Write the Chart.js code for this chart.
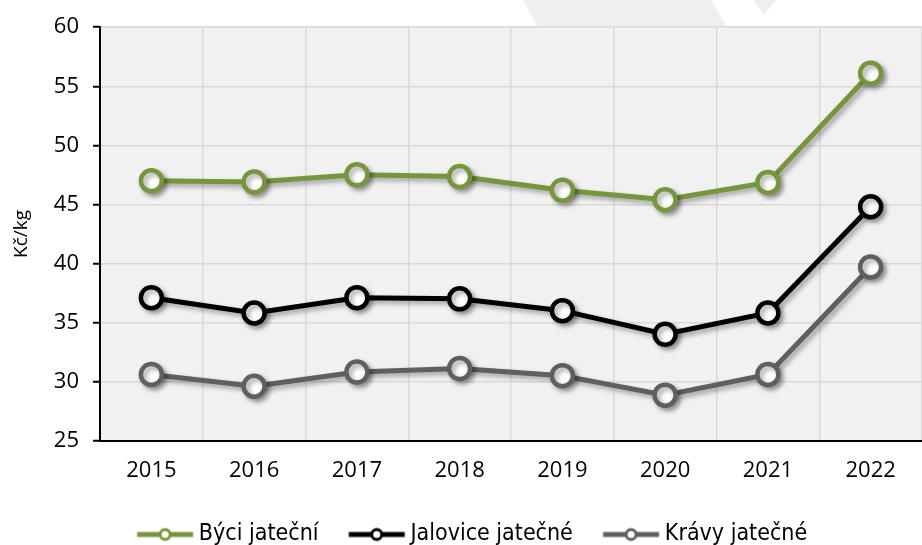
<!DOCTYPE html>
<html>
<head>
<meta charset="utf-8">
<script src="https://cdn.jsdelivr.net/npm/chart.js@4.4.0/dist/chart.umd.min.js"></script>
<style>
    html, body { margin: 0; padding: 0; background: #fff; overflow: hidden; }
</style>
</head>
<body>
<canvas id="price-chart" width="922" height="545"></canvas>
<script>
const years = ['2015', '2016', '2017', '2018', '2019', '2020', '2021', '2022'];
const bulls = [47.0, 46.9, 47.5, 47.35, 46.2, 45.4, 46.85, 56.1];
const heifers = [37.1, 35.8, 37.1, 37.0, 36.0, 34.0, 35.8, 44.8];
const cows = [30.6, 29.6, 30.8, 31.1, 30.5, 28.85, 30.6, 39.7];
const seriesNames = ['Býci jateční', 'Jalovice jatečné', 'Krávy jatečné'];
const seriesColors = ['#76963b', '#000000', '#5f5f5f'];

const legendFont = 23;
const legendLine = 56;
const legendGap = 14;
const padLeft = 14;

// line + circle marker for the legend (transparent gap on the left)
function legendMarker(color) {
    const half = legendFont / 2;
    const c = document.createElement('canvas');
    c.width = legendLine + legendGap + 2 * half;
    c.height = 16;
    const g = c.getContext('2d');
    const x0 = half + legendGap;
    g.strokeStyle = color;
    g.lineWidth = 5;
    g.beginPath();
    g.moveTo(x0, 8);
    g.lineTo(x0 + legendLine, 8);
    g.stroke();
    g.beginPath();
    g.arc(x0 + legendLine / 2, 8, 5, 0, Math.PI * 2);
    g.fillStyle = '#fff';
    g.fill();
    g.lineWidth = 3;
    g.stroke();
    return c;
}

const plotBackground = {
    id: 'plotBackground',
    beforeDraw(chart) {
        const ctx = chart.ctx;
        const a = chart.chartArea;
        ctx.save();
        // faint decoration at the top
        ctx.fillStyle = '#efefef';
        ctx.beginPath();
        ctx.moveTo(523, 0);
        ctx.lineTo(711, 0);
        ctx.lineTo(727, a.top);
        ctx.lineTo(538, a.top);
        ctx.closePath();
        ctx.fill();
        ctx.beginPath();
        ctx.moveTo(754, 0);
        ctx.lineTo(776, 0);
        ctx.lineTo(764, 15);
        ctx.closePath();
        ctx.fill();
        ctx.fillStyle = '#f1f1f1';
        ctx.fillRect(a.left, a.top, a.right - a.left, a.bottom - a.top);
        ctx.restore();
    }
};

const lineShadow = {
    id: 'lineShadow',
    beforeDatasetsDraw(chart) {
        const ctx = chart.ctx;
        ctx.save();
        ctx.shadowColor = 'rgba(0,0,0,0.35)';
        ctx.shadowBlur = 5;
        ctx.shadowOffsetX = 3;
        ctx.shadowOffsetY = 3;
    },
    afterDatasetsDraw(chart) {
        chart.ctx.restore();
    }
};

const makeSet = (i, values) => ({
    label: seriesNames[i],
    data: values,
    borderColor: seriesColors[i],
    backgroundColor: seriesColors[i],
    borderWidth: 5,
    pointRadius: 10.5,
    pointBorderWidth: 4.5,
    pointBackgroundColor: '#ffffff',
    pointBorderColor: seriesColors[i],
    pointHoverRadius: 10.5,
    tension: 0
});

new Chart(document.getElementById('price-chart'), {
    type: 'line',
    data: {
        labels: years,
        datasets: [makeSet(2, cows), makeSet(1, heifers), makeSet(0, bulls)]
    },
    options: {
        responsive: false,
        animation: false,
        layout: { autoPadding: false, padding: { top: 5, right: 0, bottom: -11, left: padLeft } },
        plugins: {
            tooltip: { enabled: false },
            legend: {
                position: 'bottom',
                labels: {
                    usePointStyle: true,
                    pointStyleWidth: legendLine + legendGap - legendFont / 2,
                    boxHeight: 16,
                    padding: 22,
                    color: '#000',
                    font: { family: '"DejaVu Sans Condensed", "Liberation Sans"', size: legendFont },
                    generateLabels(chart) {
                        return [0, 1, 2].map((i) => ({
                            text: seriesNames[i],
                            pointStyle: legendMarker(seriesColors[i]),
                            fillStyle: seriesColors[i],
                            strokeStyle: seriesColors[i],
                            lineWidth: 0,
                            hidden: false,
                            datasetIndex: 2 - i
                        }));
                    }
                }
            }
        },
        scales: {
            x: {
                offset: true,
                grid: {
                    offset: true,
                    color: '#d9d9d9',
                    lineWidth: 1.5,
                    drawTicks: false
                },
                border: { color: '#000', width: 2 },
                ticks: {
                    color: '#000',
                    padding: 17,
                    font: { family: '"Open Sans"', size: 22 }
                }
            },
            y: {
                min: 25,
                max: 60,
                afterFit(scale) { scale.width = 100 - padLeft; },
                grid: {
                    color: '#d9d9d9',
                    lineWidth: 1.5,
                    tickColor: '#000',
                    tickLength: 7,
                    tickWidth: 2
                },
                border: { color: '#000', width: 2 },
                ticks: {
                    stepSize: 5,
                    color: '#000',
                    padding: 14,
                    font: { family: '"Open Sans"', size: 22 }
                },
                title: {
                    display: true,
                    text: 'Kč/kg',
                    color: '#000',
                    padding: { top: 10 - padLeft, bottom: 6 },
                    font: { family: '"Open Sans"', size: 19 }
                }
            }
        }
    },
    plugins: [plotBackground, lineShadow]
});
</script>
</body>
</html>
